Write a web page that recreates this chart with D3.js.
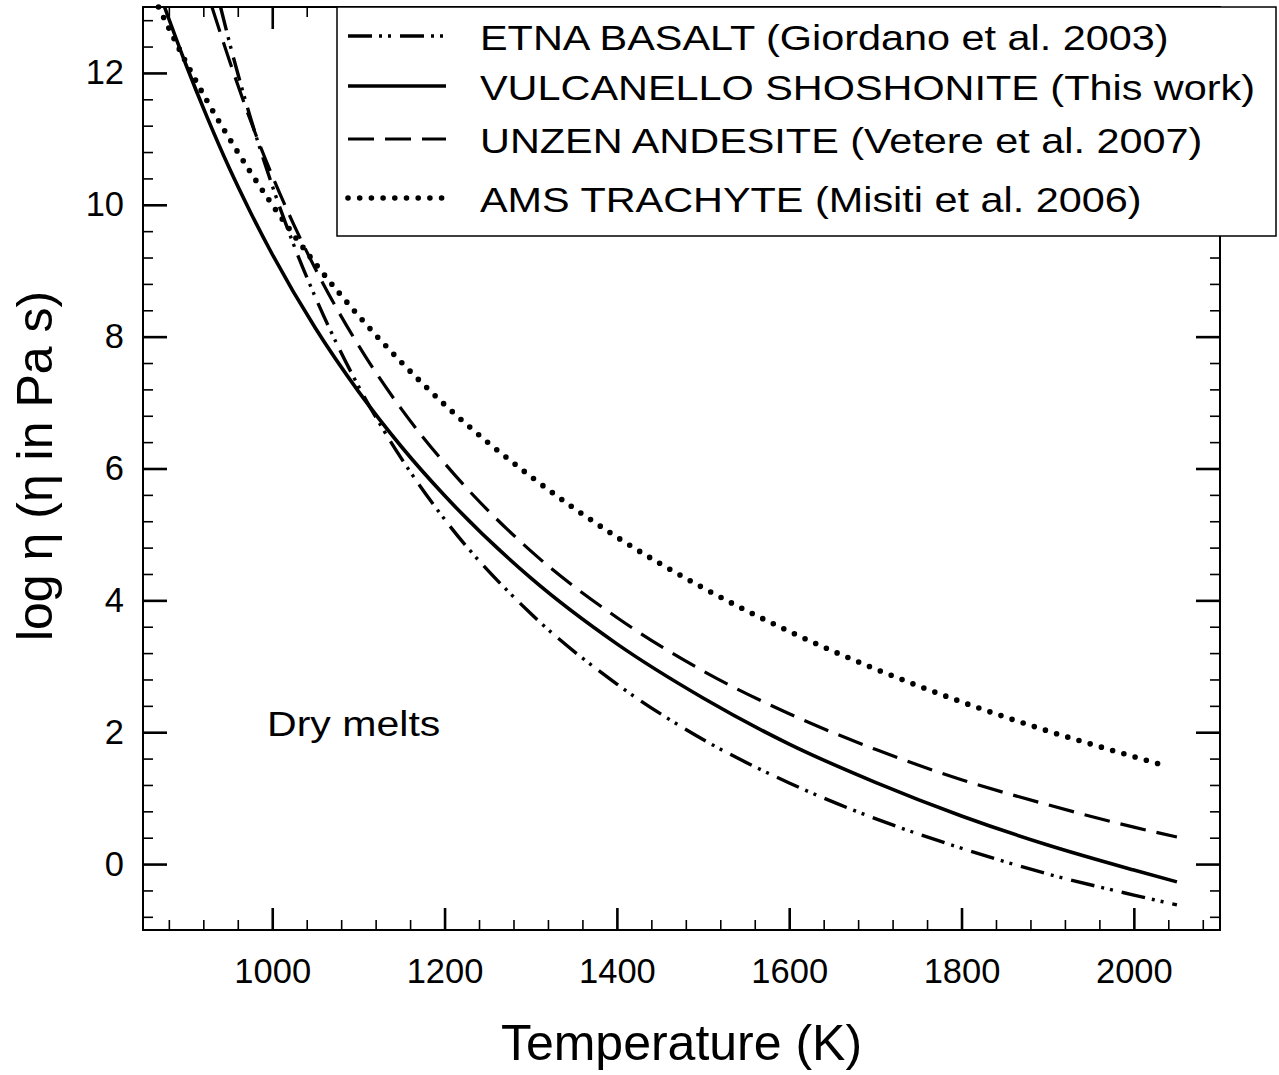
<!DOCTYPE html>
<html>
<head>
<meta charset="utf-8">
<script src="https://cdn.jsdelivr.net/npm/d3@7"></script>
<style>
  html, body { margin: 0; padding: 0; background: #fff; }
  svg text { font-family: "Liberation Sans", Arial, sans-serif; fill: #000; }
</style>
</head>
<body>
<div id="chart"></div>
<script>
// ── data ────────────────────────────────────────────────────────────────
const seriesNames = [
  'ETNA BASALT (Giordano et al. 2003)',
  'VULCANELLO SHOSHONITE (This work)',
  'UNZEN ANDESITE (Vetere et al. 2007)',
  'AMS TRACHYTE (Misiti et al. 2006)'
];

// temperature (K) / log viscosity (Pa s)
const etnaT   = [940, 950, 975, 1000, 1025, 1050, 1100, 1150, 1200, 1300, 1400, 1500, 1600, 1700, 1800, 1900, 2000, 2050];
const etnaEta = [13.0, 12.48, 11.31, 10.29, 9.39, 8.60, 7.25, 6.15, 5.23, 3.80, 2.73, 1.89, 1.23, 0.69, 0.24, -0.15, -0.47, -0.62];

const vulcT   = [875, 900, 925, 950, 975, 1000, 1050, 1100, 1150, 1200, 1300, 1400, 1500, 1600, 1700, 1800, 1900, 2000, 2050];
const vulcEta = [13.0, 12.12, 11.31, 10.56, 9.88, 9.25, 8.13, 7.17, 6.33, 5.59, 4.34, 3.34, 2.52, 1.82, 1.24, 0.73, 0.29, -0.09, -0.27];

const unzenT   = [930, 950, 975, 1000, 1025, 1050, 1100, 1150, 1200, 1300, 1400, 1500, 1600, 1700, 1800, 1900, 2000, 2050];
const unzenEta = [13.0, 12.20, 11.27, 10.44, 9.70, 9.03, 7.87, 6.90, 6.08, 4.75, 3.74, 2.93, 2.28, 1.74, 1.28, 0.90, 0.56, 0.41];

const amsT   = [868, 900, 925, 950, 975, 1000, 1050, 1100, 1150, 1200, 1300, 1400, 1500, 1600, 1700, 1800, 1900, 2000, 2040];
const amsEta = [13.0, 12.16, 11.56, 11.01, 10.49, 10.00, 9.11, 8.32, 7.61, 6.97, 5.88, 4.96, 4.19, 3.53, 2.96, 2.46, 2.02, 1.63, 1.48];

const xMajorTicks = [1000, 1200, 1400, 1600, 1800, 2000];
const yMajorTicks = [0, 2, 4, 6, 8, 10, 12];

// ── svg setup ───────────────────────────────────────────────────────────
const width = 1279, height = 1075;
const plot = { left: 143, right: 1220, top: 7, bottom: 930 };

const svg = d3.select('#chart').append('svg')
  .attr('width', width)
  .attr('height', height)
  .attr('viewBox', [0, 0, width, height]);

svg.append('rect').attr('width', width).attr('height', height).attr('fill', '#fff');

const x = d3.scaleLinear().domain([850, 2100]).range([plot.left, plot.right]);
const y = d3.scaleLinear().domain([-1, 13]).range([plot.bottom, plot.top]);

const xMinorTicks = d3.range(880, 2100, 40).filter(t => !xMajorTicks.includes(t));
const yMinorTicks = d3.range(-0.8, 13, 0.4).map(v => +v.toFixed(1)).filter(v => !yMajorTicks.includes(v));

// ── axes ────────────────────────────────────────────────────────────────
function styleAxis(g, w) {
  g.select('.domain').remove();
  g.selectAll('.tick line').attr('stroke', '#000').attr('stroke-width', w);
}

// bottom
svg.append('g').attr('transform', `translate(0,${plot.bottom})`)
  .call(d3.axisBottom(x).tickValues(xMinorTicks).tickSize(-10).tickFormat(''))
  .call(g => styleAxis(g, 1.6));
svg.append('g').attr('transform', `translate(0,${plot.bottom})`)
  .call(d3.axisBottom(x).tickValues(xMajorTicks).tickSize(-22).tickPadding(29).tickFormat(d3.format('d')))
  .call(g => styleAxis(g, 2.6))
  .call(g => g.selectAll('.tick text').attr('font-size', 34.5).attr('font-family', null));

// top
svg.append('g').attr('transform', `translate(0,${plot.top})`)
  .call(d3.axisTop(x).tickValues(xMinorTicks).tickSize(-10).tickFormat(''))
  .call(g => styleAxis(g, 1.6));
svg.append('g').attr('transform', `translate(0,${plot.top})`)
  .call(d3.axisTop(x).tickValues(xMajorTicks).tickSize(-22).tickFormat(''))
  .call(g => styleAxis(g, 2.6));

// left
svg.append('g').attr('transform', `translate(${plot.left},0)`)
  .call(d3.axisLeft(y).tickValues(yMinorTicks).tickSize(-10).tickFormat(''))
  .call(g => styleAxis(g, 1.6));
svg.append('g').attr('transform', `translate(${plot.left},0)`)
  .call(d3.axisLeft(y).tickValues(yMajorTicks).tickSize(-24).tickPadding(19).tickFormat(d3.format('d')))
  .call(g => styleAxis(g, 2.6))
  .call(g => g.selectAll('.tick text').attr('font-size', 34.5).attr('font-family', null));

// right
svg.append('g').attr('transform', `translate(${plot.right},0)`)
  .call(d3.axisRight(y).tickValues(yMinorTicks).tickSize(-10).tickFormat(''))
  .call(g => styleAxis(g, 1.6));
svg.append('g').attr('transform', `translate(${plot.right},0)`)
  .call(d3.axisRight(y).tickValues(yMajorTicks).tickSize(-24).tickFormat(''))
  .call(g => styleAxis(g, 2.6));

// frame
svg.append('rect')
  .attr('x', plot.left).attr('y', plot.top)
  .attr('width', plot.right - plot.left).attr('height', plot.bottom - plot.top)
  .attr('fill', 'none').attr('stroke', '#000').attr('stroke-width', 2);

// ── curves ──────────────────────────────────────────────────────────────
const styles = [
  { dash: '24 7 3 6 3 9', width: 3.4, cap: 'butt' },
  { dash: null,           width: 3.6, cap: 'butt' },
  { dash: '26 11',        width: 3.2, cap: 'butt' },
  { dash: '0 11.7',       width: 5.6, cap: 'round' }
];

const series = [
  d3.zip(etnaT, etnaEta),
  d3.zip(vulcT, vulcEta),
  d3.zip(unzenT, unzenEta),
  d3.zip(amsT, amsEta)
];

const line = d3.line()
  .x(d => x(d[0]))
  .y(d => y(d[1]))
  .curve(d3.curveMonotoneX);

svg.append('g').attr('id', 'curves')
  .selectAll('path')
  .data(series)
  .join('path')
  .attr('d', line)
  .attr('fill', 'none')
  .attr('stroke', '#000')
  .attr('stroke-width', (d, i) => styles[i].width)
  .attr('stroke-linecap', (d, i) => styles[i].cap)
  .attr('stroke-dasharray', (d, i) => styles[i].dash);

// annotation
svg.append('text')
  .attr('transform', `translate(${x(994)},${y(1.95)}) scale(1.14,1)`)
  .attr('font-size', 36)
  .text('Dry melts');

// ── axis titles ─────────────────────────────────────────────────────────
svg.append('text')
  .attr('x', (plot.left + plot.right) / 2)
  .attr('y', 1060)
  .attr('text-anchor', 'middle')
  .attr('font-size', 50)
  .text('Temperature (K)');

svg.append('text')
  .attr('transform', `translate(52,466) rotate(-90)`)
  .attr('text-anchor', 'middle')
  .attr('font-size', 50)
  .text('log η (η in Pa s)');

// ── legend ──────────────────────────────────────────────────────────────
const legend = svg.append('g').attr('id', 'legend');
legend.append('rect')
  .attr('x', 337).attr('y', plot.top)
  .attr('width', 939).attr('height', 229)
  .attr('fill', '#fff').attr('stroke', '#000').attr('stroke-width', 1.5);

const rowBaselines = [50, 100, 153, 212];

const rows = legend.selectAll('g.row')
  .data(seriesNames)
  .join('g')
  .attr('class', 'row');

rows.append('line')
  .attr('x1', 348).attr('x2', 446)
  .attr('y1', (d, i) => rowBaselines[i] - 14)
  .attr('y2', (d, i) => rowBaselines[i] - 14)
  .attr('stroke', '#000')
  .attr('stroke-width', (d, i) => styles[i].width)
  .attr('stroke-linecap', (d, i) => styles[i].cap)
  .attr('stroke-dasharray', (d, i) => styles[i].dash);

rows.append('text')
  .attr('transform', (d, i) => `translate(480,${rowBaselines[i]}) scale(1.15,1)`)
  .attr('font-size', 36)
  .text(d => d);
</script>
</body>
</html>
